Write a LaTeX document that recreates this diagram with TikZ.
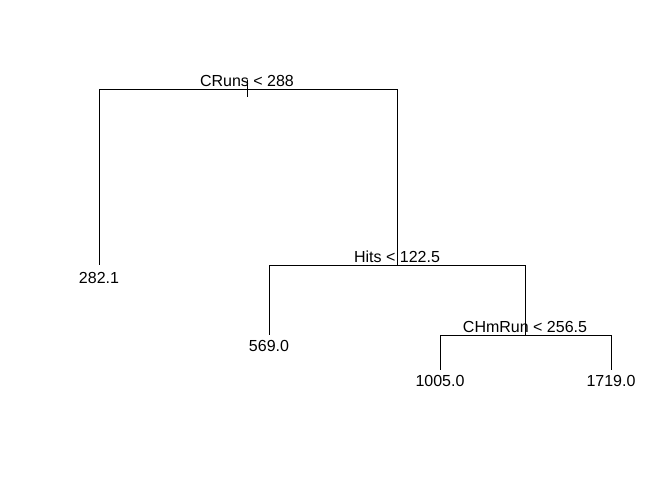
\documentclass[tikz,border=0pt]{standalone}
\usepackage{fontspec}
\setmainfont{Liberation Sans}
\usepackage{tikz}
\usetikzlibrary{positioning}

\begin{document}
\begin{tikzpicture}
      [
        x=0.75pt, y=-0.75pt,
        split/.style={anchor=base, inner sep=0pt, font=\fontsize{12}{14}\selectfont},
        leaf/.style={anchor=north, inner sep=0pt, font=\fontsize{12}{14}\selectfont},
        branch/.style={line width=0.75pt, black}
      ]
      \useasboundingbox (0,0) rectangle (672,480);
      % tree points
      \coordinate (stemtop) at (247,80);
      \coordinate (stembot) at (247,97);
      \coordinate (cruns) at (247,89);
      \coordinate (hits) at (397,265);
      \coordinate (chmrun) at (525,335);
      \coordinate (l1) at (99,265);
      \coordinate (l2) at (269,335);
      \coordinate (l3) at (440,370);
      \coordinate (l4) at (611,370);
      % branches
      \draw [branch] (stemtop) -- (stembot);
      \draw [branch] (cruns) -| (l1);
      \draw [branch] (cruns) -| (hits);
      \draw [branch] (hits) -| (l2);
      \draw [branch] (hits) -| (chmrun);
      \draw [branch] (chmrun) -| (l3);
      \draw [branch] (chmrun) -| (l4);
      % split labels
      \node [split] (s1) at (247,86.5) {CRuns < 288};
      \node [split] (s2) at (397,262.5) {Hits < 122.5};
      \node [split] (s3) at (525,332.5) {CHmRun < 256.5};
      % leaf values
      \node [leaf, below=5.5pt of l1] (v1) {282.1};
      \node [leaf, below=4pt of l2] (v2) {569.0};
      \node [leaf, below=4pt of l3] (v3) {1005.0};
      \node [leaf, below=4pt of l4] (v4) {1719.0};
    \end{tikzpicture}
\end{document}
